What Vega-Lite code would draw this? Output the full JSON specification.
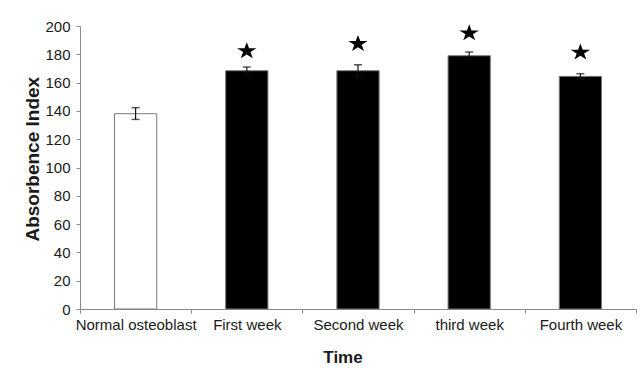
{
  "$schema": "https://vega.github.io/schema/vega-lite/v6.json",
  "autosize": {"type": "pad"},
  "padding": {"left": 23, "top": 19, "right": 7, "bottom": 0},
  "width": 556,
  "height": 283,
  "background": "white",
  "config": {
    "view": {"stroke": null},
    "font": "Liberation Sans",
    "axis": {
      "grid": false,
      "tickSize": 4,
      "tickColor": "#8a8a8a",
      "domainColor": "#8a8a8a",
      "labelFont": "Liberation Sans",
      "labelFontSize": 15,
      "labelColor": "#1a1a1a",
      "titleFont": "Liberation Sans",
      "titleFontWeight": "bold",
      "titleColor": "#1a1a1a",
      "titleBaseline": "alphabetic"
    },
    "axisY": {
      "tickCount": 10,
      "labelOverlap": false,
      "labelPadding": 6,
      "titleFontSize": 19,
      "titleX": -41.7,
      "titleY": 132.7
    },
    "axisX": {
      "labelAngle": 0,
      "labelPadding": 4,
      "tickBand": "extent",
      "titleFontSize": 17,
      "titleX": 262.5,
      "titleY": 53.6
    }
  },
  "data": {
    "values": [
      {"group": "Normal osteoblast", "kind": "control", "value": 138, "lo": 134, "hi": 142.3, "star": null},
      {"group": "First week", "kind": "treated", "value": 168.4, "lo": 166, "hi": 171, "star": 182.3},
      {"group": "Second week", "kind": "treated", "value": 168.4, "lo": 164.2, "hi": 172.6, "star": 187.4},
      {"group": "third week", "kind": "treated", "value": 179, "lo": 176.4, "hi": 181.6, "star": 194.9},
      {"group": "Fourth week", "kind": "treated", "value": 164.4, "lo": 162.5, "hi": 166.3, "star": 181.3}
    ]
  },
  "encoding": {
    "x": {
      "field": "group",
      "type": "nominal",
      "sort": null,
      "title": "Time",
      "scale": {
        "domain": ["Normal osteoblast", "First week", "Second week", "third week", "Fourth week"],
        "paddingInner": 0,
        "paddingOuter": 0
      }
    }
  },
  "layer": [
    {
      "mark": {"type": "bar", "width": {"band": 0.38}, "stroke": "#7a7a7a", "strokeWidth": 1},
      "encoding": {
        "y": {
          "field": "value",
          "type": "quantitative",
          "title": "Absorbence Index",
          "scale": {"domain": [0, 200], "nice": false}
        },
        "fill": {
          "field": "kind",
          "type": "nominal",
          "scale": {"domain": ["control", "treated"], "range": ["white", "black"]},
          "legend": null
        }
      }
    },
    {
      "mark": {"type": "rule", "color": "#111111", "strokeWidth": 1.2},
      "encoding": {
        "y": {"field": "lo", "type": "quantitative", "title": "Absorbence Index"},
        "y2": {"field": "hi"}
      }
    },
    {
      "mark": {"type": "tick", "color": "#111111", "size": 8, "thickness": 1.5},
      "encoding": {"y": {"field": "hi", "type": "quantitative", "title": "Absorbence Index"}}
    },
    {
      "mark": {"type": "tick", "color": "#111111", "size": 8, "thickness": 1.5},
      "encoding": {"y": {"field": "lo", "type": "quantitative", "title": "Absorbence Index"}}
    },
    {
      "mark": {
        "type": "point",
        "shape": "M0,-1L0.259,-0.309L1.094,-0.309L0.417,0.118L0.676,0.809L0,0.382L-0.676,0.809L-0.417,0.118L-1.094,-0.309L-0.259,-0.309Z",
        "filled": true,
        "color": "black",
        "opacity": 1,
        "size": 313
      },
      "encoding": {"y": {"field": "star", "type": "quantitative", "title": "Absorbence Index"}}
    }
  ]
}
